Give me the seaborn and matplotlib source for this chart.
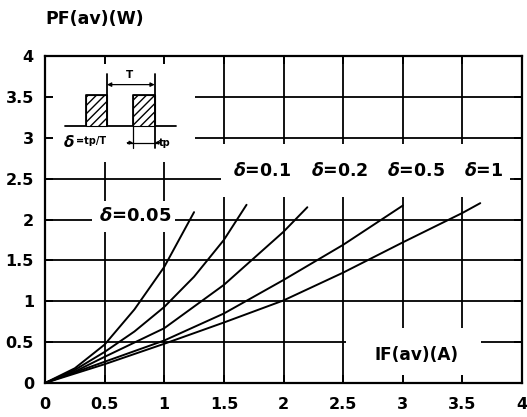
import numpy as np
import pandas as pd
import matplotlib
matplotlib.use("Agg")
import matplotlib.pyplot as plt
from matplotlib.patches import Rectangle
import seaborn as sns

# ---- data ----
x_d005 = [0, 0.25, 0.5, 0.75, 1.0, 1.25]
y_d005 = [0, 0.18, 0.47, 0.90, 1.42, 2.09]

x_d01 = [0, 0.25, 0.5, 0.75, 1.0, 1.25, 1.5, 1.69]
y_d01 = [0, 0.16, 0.38, 0.63, 0.93, 1.30, 1.75, 2.18]

x_d02 = [0, 0.25, 0.5, 1.0, 1.5, 2.0, 2.2]
y_d02 = [0, 0.14, 0.32, 0.67, 1.20, 1.85, 2.15]

x_d05 = [0, 0.5, 1.0, 1.5, 2.0, 2.5, 3.0]
y_d05 = [0, 0.26, 0.52, 0.85, 1.26, 1.69, 2.17]

x_d1 = [0, 0.5, 1.0, 1.5, 2.0, 2.5, 3.0, 3.5, 3.65]
y_d1 = [0, 0.23, 0.48, 0.74, 1.01, 1.35, 1.72, 2.08, 2.20]

series_names = ["0.05", "0.1", "0.2", "0.5", "1"]
xticks = [0, 0.5, 1, 1.5, 2, 2.5, 3, 3.5, 4]
yticks = [0, 0.5, 1, 1.5, 2, 2.5, 3, 3.5, 4]
xtick_labels = ["0", "0.5", "1", "1.5", "2", "2.5", "3", "3.5", "4"]
ytick_labels = ["0", "0.5", "1", "1.5", "2", "2.5", "3", "3.5", "4"]

frames = []
for name, xs, ys in zip(series_names, [x_d005, x_d01, x_d02, x_d05, x_d1],
                        [y_d005, y_d01, y_d02, y_d05, y_d1]):
    frames.append(pd.DataFrame({"IF": xs, "PF": ys, "delta": name}))
df = pd.concat(frames, ignore_index=True)

sns.set_theme(style="white")
plt.rcParams["font.family"] = ["DejaVu Sans"]
plt.rcParams["font.weight"] = "bold"
plt.rcParams["mathtext.fontset"] = "dejavusans"
plt.rcParams["text.color"] = "black"
plt.rcParams["xtick.color"] = "black"
plt.rcParams["ytick.color"] = "black"
plt.rcParams["xtick.labelcolor"] = "black"
plt.rcParams["ytick.labelcolor"] = "black"
plt.rcParams["axes.labelcolor"] = "black"

fig = plt.figure(figsize=(5.27, 4.17), dpi=100)
ax = fig.add_axes([45 / 527, 34 / 417, 477 / 527, 327 / 417])

# grid lines (manual, so they can be masked)
for v in xticks[1:-1]:
    ax.axvline(v, color="black", lw=1.3, zorder=1)
for v in yticks[1:-1]:
    ax.axhline(v, color="black", lw=1.3, zorder=1)

# white masks behind annotations
for (x0, y0, w, h) in [(0.0, 2.70, 1.26, 1.30),
                       (1.48, 2.28, 2.42, 0.64),
                       (0.39, 1.85, 0.70, 0.38),
                       (2.52, 0.0, 1.14, 0.67)]:
    ax.add_patch(Rectangle((x0, y0), w, h, facecolor="white", edgecolor="none", zorder=2))

sns.lineplot(data=df, x="IF", y="PF", units="delta", estimator=None,
             color="black", lw=1.4, ax=ax, zorder=4, sort=False)

ax.set_xlim(0, 4)
ax.set_ylim(0, 4)
ax.set_xticks(xticks)
ax.set_yticks(yticks)
ax.set_xticklabels(xtick_labels, fontsize=11.5, fontweight="bold", color="black")
ax.set_yticklabels(ytick_labels, fontsize=11.5, fontweight="bold", color="black")
ax.tick_params(axis="both", direction="in", length=6, width=1.4, color="black",
               labelcolor="black", top=True, right=True, bottom=True, left=True)
ax.tick_params(axis="x", pad=10)
ax.tick_params(axis="y", pad=8)
ax.set_axisbelow(False)
ax.set_xlabel("")
ax.set_ylabel("")
for s in ax.spines.values():
    s.set_color("black")
    s.set_linewidth(1.6)
    s.set_visible(True)

# curve labels
ax.text(0.755, 2.04, r"$\delta$=0.05", fontsize=13, fontweight="bold",
        color="black", ha="center", va="center", zorder=5)
for xc, nm in zip([1.82, 2.47, 3.11, 3.68], ["0.1", "0.2", "0.5", "1"]):
    ax.text(xc, 2.59, r"$\delta$=" + nm, fontsize=12.5, fontweight="bold",
            color="black", ha="center", va="center", zorder=5)

ax.text(3.12, 0.34, "IF(av)(A)", fontsize=12.2, fontweight="bold",
        color="black", ha="center", va="center", zorder=5)
fig.text(45 / 527, 1 - 19 / 417, "PF(av)(W)", fontsize=12.5, fontweight="bold",
         color="black", ha="left", va="center")

# inset pulse diagram
lw = 1.3
ax.plot([0.17, 0.34, 0.34, 0.52, 0.52, 0.74, 0.74, 0.92, 0.92, 1.10],
        [3.14, 3.14, 3.52, 3.52, 3.14, 3.14, 3.52, 3.52, 3.14, 3.14],
        color="black", lw=lw, zorder=4)
ax.plot([0.52, 0.52], [3.14, 3.78], color="black", lw=lw, zorder=4)
ax.plot([0.92, 0.92], [2.88, 3.78], color="black", lw=lw, zorder=4)
ax.plot([0.74, 0.74], [2.88, 3.14], color="black", lw=0.9, zorder=4)
for xa in (0.34, 0.74):
    ax.add_patch(Rectangle((xa, 3.14), 0.18, 0.38, facecolor="white",
                           edgecolor="black", hatch="////", lw=0.8, zorder=3))
ax.annotate("", xy=(0.52, 3.65), xytext=(0.92, 3.65),
            arrowprops=dict(arrowstyle="<|-|>", color="black", lw=0.9,
                            mutation_scale=6, shrinkA=0, shrinkB=0), zorder=5)
ax.text(0.71, 3.77, "T", fontsize=7.5, fontweight="bold", color="black",
        ha="center", va="center", zorder=5)
ax.plot([0.69, 0.95], [2.94, 2.94], color="black", lw=0.9, zorder=4)
ax.annotate("", xy=(0.74, 2.94), xytext=(0.69, 2.94),
            arrowprops=dict(arrowstyle="-|>", color="black", lw=0.9,
                            mutation_scale=5, shrinkA=0, shrinkB=0), zorder=5)
ax.annotate("", xy=(0.92, 2.94), xytext=(0.97, 2.94),
            arrowprops=dict(arrowstyle="-|>", color="black", lw=0.9,
                            mutation_scale=5, shrinkA=0, shrinkB=0), zorder=5)
ax.text(0.955, 2.94, "tp", fontsize=7, fontweight="bold", color="black",
        ha="left", va="center", zorder=5)
ax.text(0.15, 2.95, r"$\delta$", fontsize=11, color="black",
        ha="left", va="center", zorder=5)
ax.text(0.26, 2.96, "=tp/T", fontsize=7, fontweight="bold", color="black",
        ha="left", va="center", zorder=5)

fig.savefig("out.png", dpi=100)
